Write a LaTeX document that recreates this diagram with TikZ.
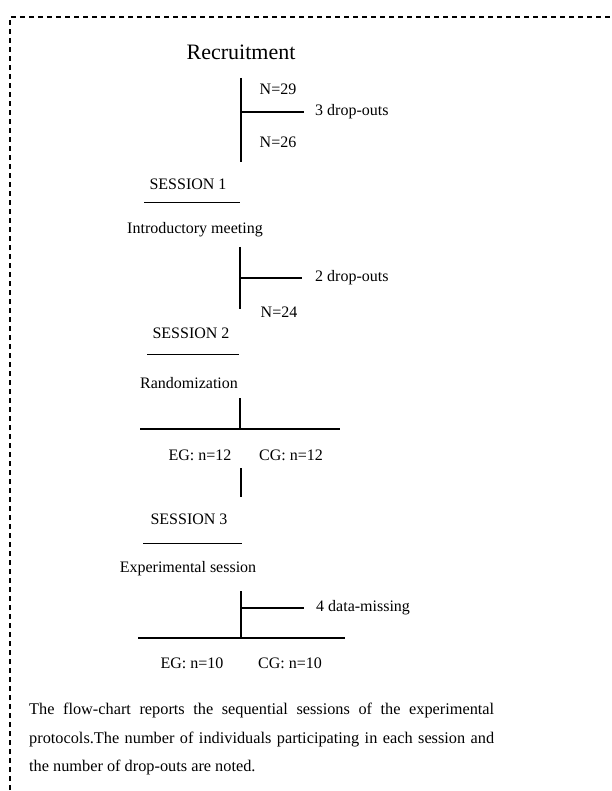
\documentclass[tikz,border=0pt]{standalone}
\usepackage{fontspec}
\setmainfont{Liberation Serif}
\begin{document}
\begin{tikzpicture}[x=1pt,y=-1pt,
  lbl/.style={inner sep=0pt, font=\fontsize{16}{18}\selectfont},
  thinln/.style={line width=1.2pt},
  thickln/.style={line width=2.2pt},
  frame/.style={line width=1.3pt, dash pattern=on 5pt off 4pt}]
\useasboundingbox (0,0) rectangle (611,791);
% frame
\coordinate (fa) at (10,790);
\coordinate (fb) at (10,17);
\coordinate (fc) at (611,17);
\draw[frame] (fa) -- (fb) -- (fc);
% recruitment
\node[inner sep=0pt, font=\fontsize{22}{24}\selectfont] (rec) at (241,52) {Recruitment};
\coordinate (v1a) at (241,78);
\coordinate (v1b) at (241,162);
\coordinate (h1a) at (241,112);
\coordinate (h1b) at (304,112);
\draw[thinln] (v1a) -- (v1b);
\draw[thickln] (h1a) -- (h1b);
\node[lbl] (n29) at (278,89) {N=29};
\node[lbl, anchor=west] (d3) at (315,112) {3 drop-outs};
\node[lbl] (n26) at (278,142) {N=26};
% session 1
\node[lbl] (s1) at (188,184) {SESSION 1};
\coordinate (u1a) at (144,203);
\coordinate (u1b) at (240,203);
\draw[line width=1pt] (u1a) -- (u1b);
\node[lbl] (intro) at (195,230) {Introductory meeting};
\coordinate (v2a) at (240,247);
\coordinate (v2b) at (240,309);
\coordinate (h2a) at (240,278);
\coordinate (h2b) at (302,278);
\draw[thinln] (v2a) -- (v2b);
\draw[thickln] (h2a) -- (h2b);
\node[lbl, anchor=west] (d2) at (315,278) {2 drop-outs};
\node[lbl] (n24) at (279,312) {N=24};
% session 2
\node[lbl] (s2) at (191,333) {SESSION 2};
\coordinate (u2a) at (147,354);
\coordinate (u2b) at (239,354);
\draw[line width=1pt] (u2a) -- (u2b);
\node[lbl] (rand) at (189,383) {Randomization};
\coordinate (v3a) at (240,398);
\coordinate (v3b) at (240,429);
\coordinate (h3a) at (140,429);
\coordinate (h3b) at (340,429);
\draw[thinln] (v3a) -- (v3b);
\draw[thickln] (h3a) -- (h3b);
\node[lbl] (eg12) at (200,455) {EG: n=12};
\node[lbl] (cg12) at (291,455) {CG: n=12};
\coordinate (v4a) at (241,468);
\coordinate (v4b) at (241,497);
\draw[thinln] (v4a) -- (v4b);
% session 3
\node[lbl] (s3) at (189,519) {SESSION 3};
\coordinate (u3a) at (143,543);
\coordinate (u3b) at (242,543);
\draw[line width=1pt] (u3a) -- (u3b);
\node[lbl] (exp) at (188,569) {Experimental session};
\coordinate (v5a) at (241,591);
\coordinate (v5b) at (241,638);
\coordinate (h5a) at (241,608);
\coordinate (h5b) at (304,608);
\draw[thinln] (v5a) -- (v5b);
\draw[line width=1.8pt] (h5a) -- (h5b);
\node[lbl, anchor=west] (dm) at (316,608) {4 data-missing};
\coordinate (h6a) at (138,638);
\coordinate (h6b) at (345,638);
\draw[thickln] (h6a) -- (h6b);
\node[lbl] (eg10) at (192,663) {EG: n=10};
\node[lbl] (cg10) at (290,663) {CG: n=10};
% caption
\node[inner sep=0pt, anchor=north west, text width=465pt, align=justify,
  font=\fontsize{16.3}{28.5}\selectfont] (cap) at (29,703)
  {\hyphenpenalty=10000 The flow-chart reports the sequential sessions of the experimental\linebreak protocols.The number of individuals participating in each session and\linebreak the number of drop-outs are noted.};
\end{tikzpicture}
\end{document}
